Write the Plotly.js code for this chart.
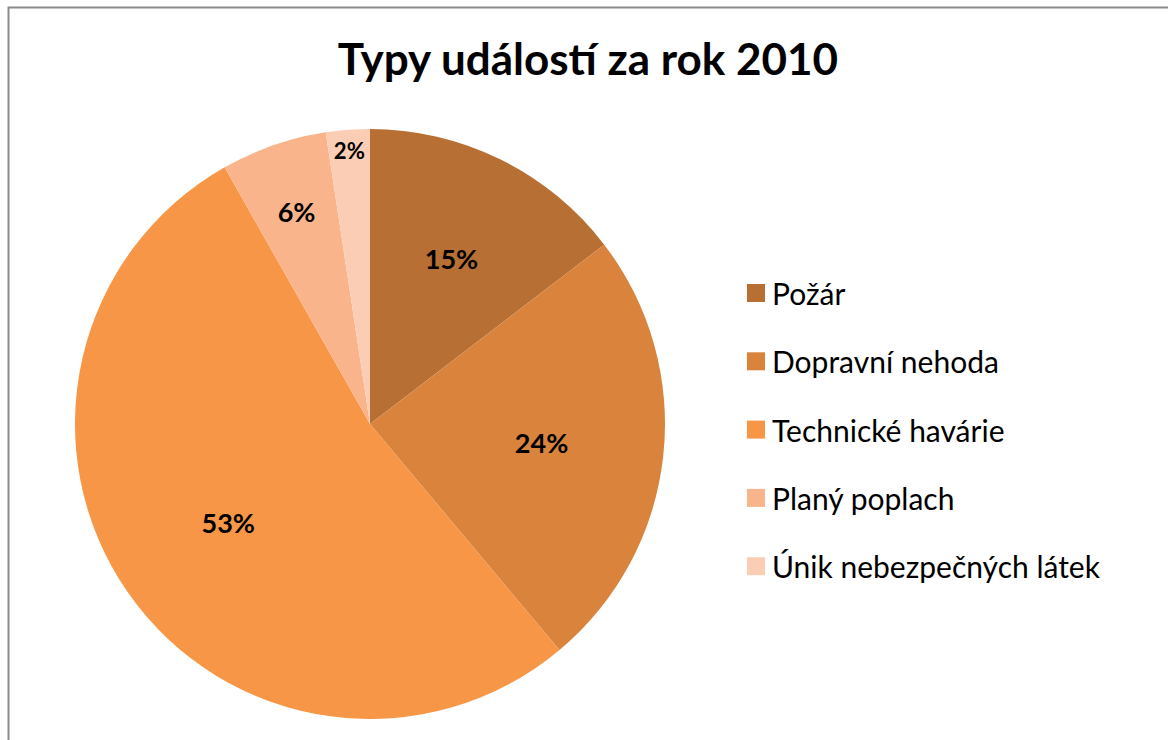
<!DOCTYPE html>
<html>
<head>
<meta charset="utf-8">
<script src="https://cdn.plot.ly/plotly-3.0.1.min.js"></script>
<style>
html,body{margin:0;padding:0;background:#fff;}
#chart{width:1168px;height:740px;}
</style>
</head>
<body>
<div id="chart"></div>
<script>
// Data
const categories = ["Požár", "Dopravní nehoda", "Technické havárie", "Planý poplach", "Únik nebezpečných látek"];
const values = [14.6, 24.3, 52.9, 5.8, 2.4];
const colors = ["#B86F33", "#DA833D", "#F79646", "#F9B48B", "#FBCDB4"];
const chartTitle = "Typy událostí za rok 2010";

const W = 1168, H = 740;
const FONT = "Lato, 'Open Sans', sans-serif";
const PCT = "%{percent:.0%}";

// Pie geometry (pixels) converted to paper domain
const cx = 370, cy = 424, r = 295;
function domainFor(rad) {
  return {x: [(cx - rad) / W, (cx + rad) / W], y: [(H - (cy + rad)) / H, (H - (cy - rad)) / H]};
}
// the narrowest slice gets its label from the full-size pie, the others from the inner ring
const smallest = values.indexOf(Math.min(...values));

// Filled pie
const pieFill = {
  type: "pie",
  labels: categories,
  values: values,
  sort: false,
  direction: "clockwise",
  rotation: 0,
  marker: {colors: colors, line: {width: 0}},
  textposition: "inside",
  insidetextorientation: "horizontal",
  texttemplate: values.map((v, i) => i === smallest ? PCT : ""),
  textfont: {family: FONT, size: 27, color: "#000000", weight: "bold"},
  hoverinfo: "label+percent",
  showlegend: false,
  domain: domainFor(r)
};

// Transparent ring carrying the other percentage labels (places them like the reference)
const pieText = {
  type: "pie",
  labels: categories,
  values: values,
  sort: false,
  direction: "clockwise",
  rotation: 0,
  hole: 0.3,
  marker: {colors: categories.map(() => "rgba(0,0,0,0)"), line: {width: 0}},
  textposition: "inside",
  insidetextorientation: "horizontal",
  texttemplate: values.map((v, i) => i === smallest ? "" : PCT),
  textfont: {family: FONT, size: 27, color: "#000000", weight: "bold"},
  hoverinfo: "skip",
  showlegend: false,
  domain: domainFor(r * 0.9)
};

// Custom legend matching the reference spacing
const shapes = [];
const annotations = [];
const legX = 747, legSq = 18, legY0 = 293, legStep = 68.3;
categories.forEach((c, i) => {
  const yc = legY0 + i * legStep;
  shapes.push({
    type: "rect", xref: "paper", yref: "paper",
    x0: legX / W, x1: (legX + legSq) / W,
    y0: (H - (yc + legSq / 2)) / H, y1: (H - (yc - legSq / 2)) / H,
    fillcolor: colors[i], line: {width: 0}
  });
  annotations.push({
    xref: "paper", yref: "paper",
    x: (legX + legSq + 5) / W, y: (H - yc) / H,
    xanchor: "left", yanchor: "middle",
    text: c, showarrow: false,
    font: {family: FONT, size: 30, color: "#000000"}
  });
});

// Frame border (left and top visible)
shapes.push({
  type: "rect", xref: "paper", yref: "paper",
  x0: 8.5 / W, x1: (W + 20) / W, y0: -20 / H, y1: (H - 7.5) / H,
  line: {color: "#8A8A8A", width: 2}, fillcolor: "rgba(0,0,0,0)"
});

const layout = {
  width: W, height: H,
  margin: {l: 0, r: 0, t: 0, b: 0},
  paper_bgcolor: "#ffffff",
  plot_bgcolor: "#ffffff",
  showlegend: false,
  title: {
    text: "<b>" + chartTitle + "</b>",
    font: {family: FONT, size: 44, color: "#000000"},
    x: 588 / W, xanchor: "center",
    y: (H - 60) / H, yanchor: "middle"
  },
  shapes: shapes,
  annotations: annotations
};

Plotly.newPlot("chart", [pieFill, pieText], layout, {displayModeBar: false, responsive: false});
</script>
</body>
</html>
